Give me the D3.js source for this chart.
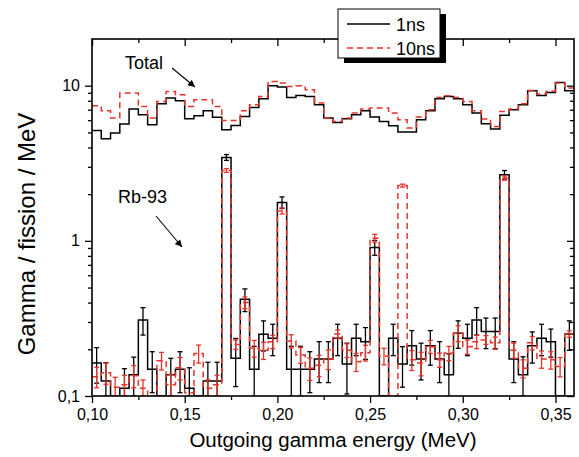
<!DOCTYPE html>
<html>
<head>
<meta charset="utf-8">
<script src="https://cdn.jsdelivr.net/npm/d3@7"></script>
<style>
  body { margin: 0; background: #fff; }
  text { font-family: "Liberation Sans", Arial, sans-serif; fill: #000; }
</style>
</head>
<body>
<svg id="chart" width="579" height="457"></svg>
<script>
// Energy binning of the spectra (MeV)
const binStart = 0.100;
const binWidth = 0.005;

// Total gamma spectrum, coincidence window 1 ns and 10 ns
const total1ns = [5.15, 4.55, 4.95, 5.66, 7.07, 6.50, 5.60, 7.65, 8.32, 8.00,
  6.12, 6.40, 6.90, 6.25, 5.20, 5.55, 6.34, 7.24, 8.24, 10.0,
  9.81, 8.40, 8.66, 8.53, 7.54, 6.19, 5.80, 6.12, 6.50, 6.90,
  6.28, 5.88, 5.52, 5.03, 5.03, 6.03, 6.90, 8.24, 8.53, 8.24,
  7.54, 6.67, 5.69, 5.26, 6.44, 7.00, 7.54, 9.28, 8.66, 9.05,
  10.5, 9.28];
const total10ns = [7.43, 6.90, 6.19, 8.97, 8.97, 7.35, 6.19, 7.92, 9.19, 8.75,
  7.35, 8.12, 8.12, 7.35, 5.97, 5.97, 6.90, 7.54, 8.53, 10.66,
  10.4, 9.90, 10.0, 9.40, 7.73, 6.19, 5.88, 6.19, 6.67, 7.07,
  7.18, 7.18, 6.67, 6.03, 5.34, 6.28, 7.00, 8.40, 8.60, 8.40,
  7.92, 6.90, 6.10, 5.46, 6.83, 7.07, 7.65, 9.33, 8.84, 9.20,
  10.4, 9.67];

// Rb-93 gamma spectrum with statistical errors
const rb1ns = [0.163, 0.125, 0, 0.112, 0.137, 0.309, 0.149, 0, 0.137, 0.149,
  0.112, 0, 0.125, 0.125, 3.45, 0.175, 0.42, 0.149, 0.25, 0.236,
  1.77, 0.149, 0.149, 0.149, 0.173, 0.173, 0.236, 0.161, 0.236, 0.224,
  0.906, 0, 0.236, 0.161, 0.211, 0.173, 0.211, 0.173, 0.137, 0.254,
  0.236, 0.309, 0.26, 0.26, 2.67, 0.173, 0.137, 0.211, 0.236, 0.224,
  0, 0.251];
const rb1nsErr = [0.042, 0.039, 0, 0.038, 0.041, 0.062, 0.044, 0, 0.038, 0.044,
  0.040, 0, 0.040, 0.040, 0.15, 0.060, 0.07, 0.060, 0.055, 0.054,
  0.15, 0.060, 0.060, 0.044, 0.051, 0.051, 0.054, 0.058, 0.054, 0.052,
  0.10, 0, 0.054, 0.047, 0.053, 0.046, 0.053, 0.051, 0.050, 0.051,
  0.054, 0.062, 0.058, 0.058, 0.17, 0.051, 0.042, 0.048, 0.054, 0.046,
  0, 0.054];
const rb10ns = [0.133, 0.141, 0.114, 0.118, 0.135, 0.112, 0.095, 0.169, 0.118, 0.152,
  0.105, 0.188, 0.112, 0.118, 2.84, 0.215, 0.40, 0.203, 0.197, 0.224,
  1.56, 0.226, 0.184, 0.151, 0.158, 0.173, 0.251, 0.197, 0.166, 0.190,
  1.04, 0.181, 0.05, 2.27, 0.171, 0.163, 0.208, 0.171, 0.189, 0.254,
  0.208, 0.224, 0.230, 0.220, 2.54, 0.197, 0.151, 0.220, 0.173, 0.171,
  0.155, 0.251];
const rb10nsErr = [0.020, 0.022, 0.018, 0.018, 0.022, 0.015, 0, 0.022, 0.020, 0.025,
  0, 0.025, 0.015, 0.018, 0.08, 0.015, 0.035, 0.025, 0.025, 0.022,
  0.07, 0.022, 0.022, 0.025, 0.025, 0.025, 0.015, 0.020, 0.022, 0.022,
  0.06, 0.022, 0, 0.05, 0.025, 0.028, 0.020, 0.018, 0.020, 0.030,
  0.022, 0.022, 0.015, 0.020, 0.08, 0.022, 0.020, 0.022, 0.022, 0.022,
  0.022, 0.012];

// Axis ticks and labels
const xMajor = [0.10, 0.15, 0.20, 0.25, 0.30, 0.35];
const xMajorLabels = ["0,10", "0,15", "0,20", "0,25", "0,30", "0,35"];
const xMinor = [0.125, 0.175, 0.225, 0.275, 0.325];
const yMajor = [0.1, 1, 10];
const yMajorLabels = ["0,1", "1", "10"];
const yMinor = [0.2, 0.3, 0.4, 0.5, 0.6, 0.7, 0.8, 0.9,
  2, 3, 4, 5, 6, 7, 8, 9];

const legendItems = [
  { label: "1ns", color: "#000", dash: null },
  { label: "10ns", color: "#e8332a", dash: "6,4" }
];

const svg = d3.select("#chart");
const plot = { left: 92, right: 574, top: 39, bottom: 396 };

const x = d3.scaleLinear().domain([0.10, 0.36]).range([plot.left, plot.right]);
const y = d3.scaleLog().domain([0.1, 20]).range([plot.bottom, plot.top]).clamp(true);

svg.append("defs").append("clipPath").attr("id", "plotClip")
  .append("rect")
  .attr("x", plot.left).attr("y", plot.top)
  .attr("width", plot.right - plot.left).attr("height", plot.bottom - plot.top);

const g = svg.append("g").attr("clip-path", "url(#plotClip)");

const edge = i => binStart + i * binWidth;
const safe = v => Math.max(v, 0.01);

function stepPoints(values) {
  const pts = values.map((v, i) => [edge(i), v]);
  pts.push([edge(values.length), values[values.length - 1]]);
  return pts;
}

const stepLine = d3.line()
  .x(d => x(d[0]))
  .y(d => y(safe(d[1])))
  .curve(d3.curveStepAfter);

function drawSeries(values, color, dash, width) {
  g.append("path")
    .attr("d", stepLine(stepPoints(values)))
    .attr("fill", "none")
    .attr("stroke", color)
    .attr("stroke-width", width)
    .attr("stroke-dasharray", dash)
    .attr("stroke-linejoin", "miter");
}

function drawErrors(values, errs, color, width) {
  const cap = 2.5;
  values.forEach((v, i) => {
    const e = errs[i];
    if (!(v > 0) || !(e > 0)) return;
    const cx = x(edge(i) + binWidth / 2);
    const yHi = y(v + e);
    const yLo = y(safe(v - e));
    const eg = g.append("g").attr("stroke", color).attr("stroke-width", width);
    eg.append("line").attr("x1", cx).attr("x2", cx).attr("y1", yHi).attr("y2", yLo);
    eg.append("line").attr("x1", cx - cap).attr("x2", cx + cap).attr("y1", yHi).attr("y2", yHi);
    eg.append("line").attr("x1", cx - cap).attr("x2", cx + cap).attr("y1", yLo).attr("y2", yLo);
  });
}

const red = legendItems[1].color;
drawSeries(total1ns, "#000", null, 1.5);
drawSeries(rb1ns, "#000", null, 1.5);
drawErrors(rb1ns, rb1nsErr, "#000", 1.3);
drawSeries(total10ns, red, "6,4", 1.5);
drawSeries(rb10ns, red, "6,4", 1.5);
drawErrors(rb10ns, rb10nsErr, red, 1.3);

// Axes: outer ticks on bottom/left, inner mirrored ticks on top/right
const axisStroke = 1.6;
function styleAxis(sel) {
  sel.select(".domain").remove();
  sel.selectAll(".tick line").attr("stroke", "#000").attr("stroke-width", 1.3);
  sel.selectAll(".tick text")
    .style("font-family", '"Liberation Sans", Arial, sans-serif')
    .style("font-size", "16px").attr("fill", "#000");
}

const xAxisB = svg.append("g").attr("transform", `translate(0,${plot.bottom})`)
  .call(d3.axisBottom(x).tickValues(xMajor).tickSize(7).tickPadding(6)
    .tickFormat((d, i) => xMajorLabels[i]));
styleAxis(xAxisB);
const xAxisBm = svg.append("g").attr("transform", `translate(0,${plot.bottom})`)
  .call(d3.axisBottom(x).tickValues(xMinor).tickSize(4).tickFormat(""));
styleAxis(xAxisBm);

const xAxisT = svg.append("g").attr("transform", `translate(0,${plot.top})`)
  .call(d3.axisTop(x).tickValues(xMajor).tickSize(-7).tickFormat(""));
styleAxis(xAxisT);
const xAxisTm = svg.append("g").attr("transform", `translate(0,${plot.top})`)
  .call(d3.axisTop(x).tickValues(xMinor).tickSize(-4).tickFormat(""));
styleAxis(xAxisTm);

const yAxisL = svg.append("g").attr("transform", `translate(${plot.left},0)`)
  .call(d3.axisLeft(y).tickValues(yMajor).tickSize(7).tickPadding(5)
    .tickFormat((d, i) => yMajorLabels[i]));
styleAxis(yAxisL);
const yAxisLm = svg.append("g").attr("transform", `translate(${plot.left},0)`)
  .call(d3.axisLeft(y).tickValues(yMinor).tickSize(4).tickFormat(""));
styleAxis(yAxisLm);

const yAxisR = svg.append("g").attr("transform", `translate(${plot.right},0)`)
  .call(d3.axisRight(y).tickValues(yMajor).tickSize(-7).tickFormat(""));
styleAxis(yAxisR);
const yAxisRm = svg.append("g").attr("transform", `translate(${plot.right},0)`)
  .call(d3.axisRight(y).tickValues(yMinor).tickSize(-4).tickFormat(""));
styleAxis(yAxisRm);

svg.append("rect")
  .attr("x", plot.left).attr("y", plot.top)
  .attr("width", plot.right - plot.left).attr("height", plot.bottom - plot.top)
  .attr("fill", "none").attr("stroke", "#000").attr("stroke-width", axisStroke);

// Axis titles
svg.append("text")
  .attr("x", (plot.left + plot.right) / 2).attr("y", 447)
  .attr("text-anchor", "middle").style("font-size", "20.5px")
  .text("Outgoing gamma energy (MeV)");
svg.append("text")
  .attr("transform", "translate(35,234) rotate(-90)")
  .attr("text-anchor", "middle").style("font-size", "24px")
  .text("Gamma / fission / MeV");

// Annotations with arrows
const defs = svg.select("defs");
defs.append("marker").attr("id", "arrowHead")
  .attr("viewBox", "0 0 10 10").attr("refX", 10).attr("refY", 5)
  .attr("markerWidth", 9).attr("markerHeight", 7).attr("orient", "auto")
  .attr("markerUnits", "userSpaceOnUse")
  .append("path").attr("d", "M0,0 L10,5 L0,10 Z").attr("fill", "#000");

const notes = [
  { text: "Total", tx: 125, ty: 69, x1: 172, y1: 68, x2: 195, y2: 87 },
  { text: "Rb-93", tx: 118, ty: 203, x1: 156, y1: 216, x2: 182, y2: 247 }
];
notes.forEach(n => {
  svg.append("text").attr("x", n.tx).attr("y", n.ty).style("font-size", "18px").text(n.text);
  svg.append("line").attr("x1", n.x1).attr("y1", n.y1).attr("x2", n.x2).attr("y2", n.y2)
    .attr("stroke", "#000").attr("stroke-width", 1.1).attr("marker-end", "url(#arrowHead)");
});

// Legend with drop shadow
const lg = svg.append("g");
lg.append("rect").attr("x", 344).attr("y", 14).attr("width", 102).attr("height", 49).attr("fill", "#000");
lg.append("rect").attr("x", 338).attr("y", 9).attr("width", 102).attr("height", 49)
  .attr("fill", "#fff").attr("stroke", "#000").attr("stroke-width", 1);
legendItems.forEach((d, i) => {
  const ly = 24 + i * 24;
  lg.append("line").attr("x1", 347).attr("x2", 390).attr("y1", ly).attr("y2", ly)
    .attr("stroke", d.color).attr("stroke-width", 1.5).attr("stroke-dasharray", d.dash);
  lg.append("text").attr("x", 396).attr("y", ly + 6.5).style("font-size", "18px").text(d.label);
});
</script>
</body>
</html>
